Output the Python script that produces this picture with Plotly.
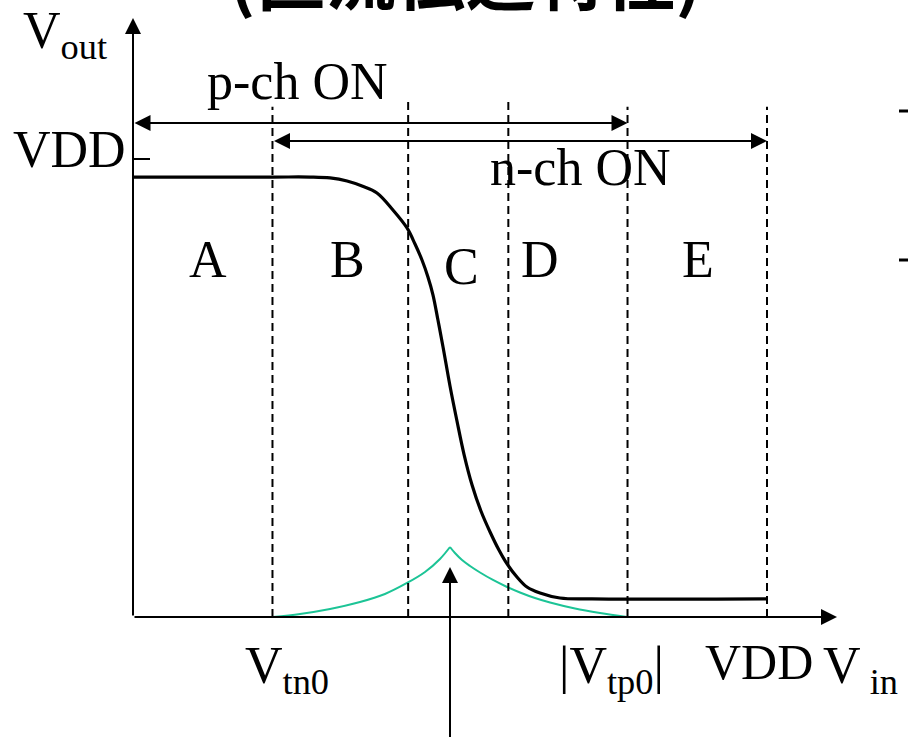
import plotly.graph_objects as go

# ---- circuit parameters (volts) ----
VDD = 5.0
VTN0 = 1.1          # n-channel threshold on the V_in axis
VTP0_ABS = 3.9      # |V_tp0| marker position on the V_in axis (VDD - |Vtp|)
B_C_EDGE = 2.17     # region B / C boundary
C_D_EDGE = 2.96     # region C / D boundary
V_SW = 2.5          # switching point (peak through-current)

# ---- DC transfer curve V_out(V_in) ----
vin_curve = [0.000, 1.100, 1.396, 1.554, 1.688, 1.806, 1.924, 2.050, 2.161,
             2.224, 2.279, 2.326, 2.366, 2.405, 2.445, 2.500, 2.555, 2.610,
             2.674, 2.744, 2.816, 2.886, 2.950, 3.028, 3.107, 3.210, 3.367,
             3.620, 5.000]
vout_curve = [4.803, 4.803, 4.803, 4.793, 4.760, 4.705, 4.629, 4.443, 4.247,
              4.072, 3.897, 3.712, 3.515, 3.242, 2.948, 2.522, 2.140, 1.779,
              1.441, 1.157, 0.928, 0.731, 0.579, 0.437, 0.328, 0.262, 0.207,
              0.197, 0.197]

# ---- through current I_DD(V_in), arbitrary units (peak = 1) ----
vin_current = [1.104, 1.317, 1.554, 1.790, 1.987, 2.161, 2.303, 2.421, 2.500,
               2.539, 2.595, 2.658, 2.737, 2.839, 2.950, 3.052, 3.170, 3.289,
               3.486, 3.683, 3.896]
idd_current = [0.000, 0.043, 0.114, 0.214, 0.329, 0.486, 0.643, 0.829, 1.000,
               0.914, 0.814, 0.729, 0.636, 0.529, 0.429, 0.350, 0.271, 0.207,
               0.121, 0.057, 0.000]

# ---- labels ----
region_labels = ["A", "B", "C", "D", "E"]
title_text = "(直流伝達特性)"

# ---- page geometry ----
W, H = 908, 737
ORIGIN_PX = (133, 617)            # pixel position of (0, 0)
X_PX_PER_V = (767 - 133) / VDD
Y_PX_PER_V = (617 - 159) / VDD
I_PX_PER_UNIT = 70.0

x_range = [-ORIGIN_PX[0] / X_PX_PER_V, (W - ORIGIN_PX[0]) / X_PX_PER_V]
y_range = [-(H - ORIGIN_PX[1]) / Y_PX_PER_V, ORIGIN_PX[1] / Y_PX_PER_V]
y2_range = [-(H - ORIGIN_PX[1]) / I_PX_PER_UNIT, ORIGIN_PX[1] / I_PX_PER_UNIT]

SERIF = "Liberation Serif, Times New Roman, serif"
FS = 52
GREEN = "#1cc496"


def px(x):
    return x / W


def py(y):
    return 1 - y / H


fig = go.Figure()

# transfer characteristic
fig.add_trace(go.Scatter(
    x=vin_curve, y=vout_curve, mode="lines",
    line=dict(color="black", width=3.2, shape="spline", smoothing=1.0),
    hoverinfo="skip", showlegend=False,
))

# through current, drawn as two halves so the peak stays sharp
k = idd_current.index(max(idd_current))
for xs, ys in ((vin_current[:k + 1], idd_current[:k + 1]),
               (vin_current[k:], idd_current[k:])):
    fig.add_trace(go.Scatter(
        x=xs, y=ys, mode="lines", yaxis="y2",
        line=dict(color=GREEN, width=2, shape="spline", smoothing=1.0),
        hoverinfo="skip", showlegend=False,
    ))

# region boundaries
dash_tops = {VTN0: 5.57, B_C_EDGE: 5.63, C_D_EDGE: 5.63, VTP0_ABS: 5.57, VDD: 5.57}
for v, top in dash_tops.items():
    fig.add_shape(type="line", xref="x", yref="y", x0=v, x1=v, y0=0, y1=top,
                  line=dict(color="black", width=2, dash="8px,5px"))

# VDD tick on the V_out axis
fig.add_shape(type="line", xref="x", yref="y", x0=0, x1=0.134, y0=VDD, y1=VDD,
              line=dict(color="black", width=2))

# stray dashes at the right edge
for yy in (111, 260):
    fig.add_shape(type="line", xref="paper", yref="paper",
                  x0=px(899), x1=1.0, y0=py(yy), y1=py(yy),
                  line=dict(color="black", width=3))

arrow_common = dict(xref="x", yref="y", axref="x", ayref="y", text="",
                    showarrow=True, arrowcolor="black", arrowwidth=2,
                    arrowhead=2, arrowsize=1.6)

annotations = [
    # axes
    dict(x=0, y=6.54, ax=0, ay=0, **arrow_common),
    dict(x=5.552, y=0, ax=0, ay=0, **arrow_common),
    # conduction ranges
    dict(x=VTP0_ABS, y=5.393, ax=0, ay=5.393, arrowside="end+start",
         startarrowhead=2, startarrowsize=1.6, **arrow_common),
    dict(x=VDD, y=5.197, ax=VTN0, ay=5.197, arrowside="end+start",
         startarrowhead=2, startarrowsize=1.6, **arrow_common),
    # pointer to the current peak
    dict(x=V_SW, y=0.546, ax=V_SW, ay=-1.5, **arrow_common),
]


def label(text, x, y, xanchor="left", size=FS, family=SERIF, weight=None,
          yanchor="middle"):
    font = dict(family=family, size=size, color="black")
    if weight:
        font["weight"] = weight
    annotations.append(dict(
        text=text, x=px(x), y=py(y), xref="paper", yref="paper",
        xanchor=xanchor, yanchor=yanchor, showarrow=False, font=font,
    ))


label("V<sub>out</sub>", 21, 34)
label("VDD", 11, 150)
label("p-ch ON", 205, 82)
label("n-ch ON", 488, 168)
for name, cx, cy in zip(region_labels, [208, 347, 462, 540, 698],
                        [260, 260, 266, 260, 260]):
    label(name, cx, cy, xanchor="center")
label("V<sub>tn0</sub>", 243, 669)
label("|V<sub>tp0</sub>|", 557, 669)
label("VDD", 703, 662, size=50)
label("V<sub> in</sub>", 821, 669)
label(title_text, 465, 27, xanchor="center", size=70,
      family="Noto Sans CJK JP", weight="bold", yanchor="bottom")

fig.update_layout(
    width=W, height=H, autosize=False,
    margin=dict(l=0, r=0, t=0, b=0, pad=0),
    paper_bgcolor="white", plot_bgcolor="white",
    xaxis=dict(range=x_range, visible=False, fixedrange=True),
    yaxis=dict(range=y_range, visible=False, fixedrange=True),
    yaxis2=dict(range=y2_range, visible=False, overlaying="y", fixedrange=True),
    annotations=annotations,
    showlegend=False,
)

fig.write_html("out.html", config={"displayModeBar": False})
